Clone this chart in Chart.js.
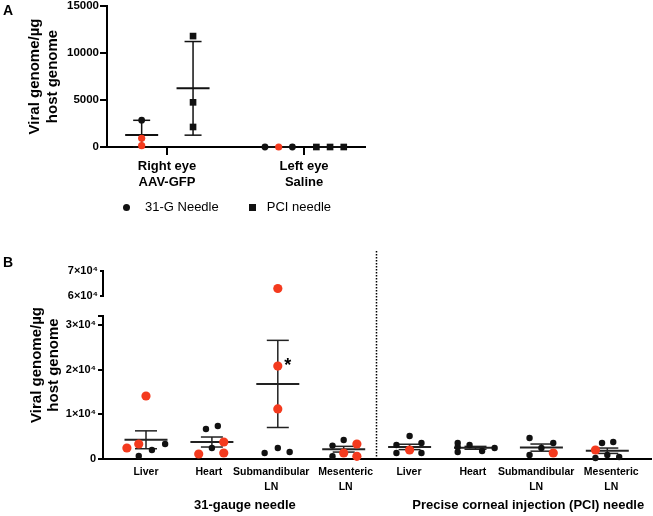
<!DOCTYPE html>
<html><head><meta charset="utf-8">
<script src="https://cdn.jsdelivr.net/npm/chart.js@4.4.1/dist/chart.umd.min.js"></script>
<style>
html,body{margin:0;padding:0;background:#fff;}
#wrap{position:relative;width:653px;height:516px;overflow:hidden;font-family:"Liberation Sans",Arial,Helvetica,sans-serif;}
canvas{position:absolute;left:0;}
#cA{top:0;}
#cB{top:240px;}
.plabel{position:absolute;font-weight:bold;font-size:14px;line-height:14px;color:#000;}
#legendA{position:absolute;left:123px;top:199px;height:16px;display:flex;align-items:center;font-size:13px;line-height:16px;color:#000;white-space:nowrap;}
#legendA .item{display:flex;align-items:center;}
#legendA .mk{display:inline-block;background:#111;}
</style></head><body>
<div id="wrap">
<canvas id="cA" width="452" height="200"></canvas>
<canvas id="cB" width="653" height="276"></canvas>
<div class="plabel" style="left:3px;top:3px;">A</div>
<div class="plabel" style="left:3px;top:255px;">B</div>
<div id="legendA"></div>
</div>
<script>
// ---------------- Panel A data ----------------
const groupsA = [['Right eye', 'AAV-GFP'], ['Left eye', 'Saline']];
const seriesA = ['31-G Needle', 'PCI needle'];
const needle31A = [[2850, 920, 140], [0, 0, 0]];
const needle31RedA = [[false, true, true], [false, true, false]];
const pciA = [[11800, 4750, 2130], [0, 0, 0]];
const needle31MeanA = [1280, 0];
const needle31SdA = [1560, 0];
const pciMeanA = [6240, 0];
const pciSdA = [4980, 0];
const ticksA = [0, 5000, 10000, 15000];
const jitterA = [[0, 0, 0], [-0.1, 0, 0.1]];

// ---------------- Panel B data ----------------
const tissuesB = [['Liver'], ['Heart'], ['Submandibular', 'LN'], ['Mesenteric', 'LN'],
                  ['Liver'], ['Heart'], ['Submandibular', 'LN'], ['Mesenteric', 'LN']];
const groupTitlesB = ['31-gauge needle', 'Precise corneal injection (PCI) needle'];
const valuesB = [
  [2460, 3360, 14100, 670, 2000, 3360],
  [1120, 6710, 7380, 2460, 3800, 1340],
  [63000, 20800, 11200, 1340, 2460, 1570],
  [3000, 4250, 3360, 1340, 600, 600],
  [5150, 3130, 3580, 2010, 1340, 1340],
  [3580, 2680, 1570, 3130, 1790, 2460],
  [4700, 3580, 2460, 1340, 900],
  [2010, 3580, 3800, 220, 900, 450]
];
const redB = [
  [1, 1, 1, 0, 0, 0],
  [1, 0, 0, 0, 1, 1],
  [1, 1, 1, 0, 0, 0],
  [0, 0, 1, 1, 1, 0],
  [0, 0, 0, 1, 0, 0],
  [0, 0, 0, 0, 0, 0],
  [0, 0, 0, 1, 0],
  [1, 0, 0, 0, 0, 0]
];
const jitterB = [
  [-0.29, -0.11, 0, -0.11, 0.09, 0.29],
  [-0.2, -0.09, 0.09, 0, 0.18, 0.18],
  [0, 0, 0, -0.2, 0, 0.18],
  [-0.17, 0, 0.2, 0, 0.2, -0.17],
  [0, -0.2, 0.18, 0, -0.2, 0.18],
  [-0.27, -0.27, -0.27, -0.09, 0.1, 0.29],
  [-0.18, 0.18, 0, 0.18, -0.18],
  [-0.18, -0.08, 0.09, -0.18, 0, 0.18]
];
const meanB = [4300, 3800, 16800, 2190, 2700, 2500, 2550, 1850];
const semB = [2000, 1120, 9750, 640, 600, 320, 800, 600];
const lowerTicksB = [0, 10000, 20000, 30000];
const upperTicksB = [60000, 70000];
const starsB = [{ cat: 2, value: 21900, label: '*' }];

// ---------------- styling / layout ----------------
const FONT = '"Liberation Sans", Arial, Helvetica, sans-serif';
const RED = '#f43a1e';
const BLACK = '#111';
const BAR = '#222';
const labelPosB = [0, 0.955, 1.9, 3.03, 3.99, 4.96, 5.92, 7.06];
const groupTitlePosB = [1.5, 5.8];
function zeroPad(s) { s.paddingTop = 0; s.paddingBottom = 0; s.paddingLeft = 0; s.paddingRight = 0; }

// HTML legend built from the chart's own legend items
const htmlLegend = {
  id: 'htmlLegend',
  afterUpdate(chart) {
    const box = document.getElementById('legendA');
    box.innerHTML = '';
    const items = chart.options.plugins.legend.labels.generateLabels(chart).filter(it => it.datasetIndex < 2);
    items.forEach((it, i) => {
      const el = document.createElement('span');
      el.className = 'item';
      el.style.marginLeft = i === 0 ? '0px' : '30px';
      const mk = document.createElement('span');
      mk.className = 'mk';
      if (it.pointStyle === 'rect') { mk.style.width = '7px'; mk.style.height = '7px'; }
      else { mk.style.width = '7px'; mk.style.height = '7px'; mk.style.borderRadius = '50%'; }
      mk.style.background = it.fillStyle;
      mk.style.marginRight = it.pointStyle === 'rect' ? '11px' : '15px';
      const tx = document.createElement('span');
      tx.textContent = it.text;
      el.appendChild(mk); el.appendChild(tx);
      box.appendChild(el);
    });
  }
};

// ================= Panel A =================
const offA = [-0.185, 0.19];
function ptsA(vals, isRed, off, wantRed) {
  const out = [];
  vals.forEach((grp, g) => grp.forEach((v, k) => {
    const red = isRed ? isRed[g][k] : false;
    if (red === wantRed) out.push({ x: g + off + jitterA[g][k], y: v });
  }));
  return out;
}
const meansA = [], capsA = [], linesA = [];
[[needle31MeanA, needle31SdA, offA[0]], [pciMeanA, pciSdA, offA[1]]].forEach(([m, sd, off]) => {
  m.forEach((mv, g) => {
    const x = g + off, lo = Math.max(0, mv - sd[g]), hi = mv + sd[g];
    meansA.push({ x, y: mv });
    capsA.push({ x, y: lo }, { x, y: hi });
    linesA.push({ x, y: lo }, { x, y: hi }, { x, y: null });
  });
});

new Chart(document.getElementById('cA'), {
  type: 'scatter',
  data: {
    datasets: [
      { label: seriesA[0], data: ptsA(needle31A, needle31RedA, offA[0], false), pointStyle: 'circle', pointRadius: 3.4,
        backgroundColor: BLACK, borderColor: BLACK, pointBorderWidth: 0, clip: false },
      { label: seriesA[1], data: ptsA(pciA, null, offA[1], false), pointStyle: 'rect', pointRadius: 4.7,
        backgroundColor: BLACK, borderColor: BLACK, pointBorderWidth: 0, clip: false },
      { label: '', data: ptsA(needle31A, needle31RedA, offA[0], true), pointStyle: 'circle', pointRadius: 3.6,
        backgroundColor: RED, borderColor: RED, pointBorderWidth: 0, clip: false },
      { label: '', data: meansA, pointStyle: 'line', pointRadius: 16.5, pointBorderWidth: 2,
        pointBorderColor: BLACK, backgroundColor: BLACK, clip: false },
      { label: '', data: capsA, pointStyle: 'line', pointRadius: 8.5, pointBorderWidth: 1.5,
        pointBorderColor: BLACK, backgroundColor: BLACK, clip: false },
      { label: '', data: linesA, showLine: true, borderColor: BLACK, borderWidth: 1.5, pointRadius: 0, spanGaps: false, clip: false }
    ]
  },
  options: {
    responsive: false, animation: false, devicePixelRatio: 1, events: [],
    layout: { autoPadding: false, padding: { top: 6, left: 0, right: 0, bottom: 0 } },
    plugins: {
      tooltip: { enabled: false },
      legend: { display: false, labels: { usePointStyle: true } }
    },
    scales: {
      x: {
        type: 'linear', position: 'bottom', min: -0.438, max: 1.445,
        afterBuildTicks: (s) => { s.ticks = groupsA.map((g, i) => ({ value: i })); },
        ticks: { callback: (v, i) => groupsA[i], autoSkip: false, maxRotation: 0, minRotation: 0,
          padding: 2.5, color: '#000', font: { family: FONT, size: 13, weight: 'bold', lineHeight: 1.3 } },
        grid: { display: true, drawOnChartArea: false, drawTicks: true, tickLength: 8, color: '#000', lineWidth: 2 },
        border: { display: true, color: '#000', width: 2 },
        afterFit: (s) => { s.height = 53; zeroPad(s); }
      },
      y: {
        type: 'linear', position: 'left', min: 0, max: 15000,
        afterBuildTicks: (s) => { s.ticks = ticksA.map(v => ({ value: v })); },
        ticks: { callback: (v) => String(v), padding: 1, color: '#000', autoSkip: false,
          font: { family: FONT, size: 11.5, weight: 'bold', lineHeight: 1.2 } },
        grid: { display: true, drawOnChartArea: false, drawTicks: true, tickLength: 7, color: '#000', lineWidth: 2 },
        border: { display: true, color: '#000', width: 2 },
        title: { display: true, text: ['Viral genome/µg', 'host genome'], color: '#000',
          font: { family: FONT, size: 15, weight: 'bold', lineHeight: 1.25 }, padding: { top: 25, bottom: 0 } },
        afterFit: (s) => { s.width = 107; zeroPad(s); }
      },
      yR: {
        type: 'linear', position: 'right', min: 0, max: 1, display: true,
        ticks: { display: false }, grid: { display: false }, border: { display: false },
        afterFit: (s) => { s.width = 87; zeroPad(s); }
      }
    }
  },
  plugins: [htmlLegend]
});

// ================= Panel B =================
const lowerMaxB = 32000;
function ptsB(wantRed, upper) {
  const out = [];
  valuesB.forEach((grp, c) => grp.forEach((v, k) => {
    if ((!!redB[c][k]) === wantRed && (v > lowerMaxB) === upper) out.push({ x: c + jitterB[c][k], y: v });
  }));
  return out;
}
const meansB = [], capsB = [], linesB = [];
meanB.forEach((m, c) => {
  const lo = m - semB[c], hi = m + semB[c];
  meansB.push({ x: c, y: m });
  capsB.push({ x: c, y: lo }, { x: c, y: hi });
  linesB.push({ x: c, y: lo }, { x: c, y: hi }, { x: c, y: null });
});
const fmtB = (v) => v === 0 ? '0' : ((lowerTicksB.includes(v) || upperTicksB.includes(v)) ? (v / 10000) + '×10⁴' : '');

const extrasB = {
  id: 'extrasB',
  afterDraw(chart) {
    const { ctx, chartArea, scales } = chart;
    const x = Math.round(scales.x.getPixelForValue(3.49)) + 0.5;
    ctx.save();
    ctx.strokeStyle = '#000'; ctx.lineWidth = 1.5; ctx.setLineDash([1.5, 1.5]);
    ctx.beginPath(); ctx.moveTo(x, chartArea.top - 20); ctx.lineTo(x, chartArea.bottom); ctx.stroke();
    ctx.setLineDash([]);
    ctx.font = 'bold 18px ' + FONT; ctx.fillStyle = '#000'; ctx.textAlign = 'center'; ctx.textBaseline = 'alphabetic';
    starsB.forEach(s => {
      ctx.fillText(s.label, scales.x.getPixelForValue(s.cat + 0.15), scales.yBot.getPixelForValue(s.value) + 10);
    });
    ctx.restore();
  }
};

const yAxisCommonB = {
  type: 'linear', position: 'left', stack: 'b',
  border: { display: true, color: '#000', width: 2 },
  afterFit: (s) => { s.width = 41; zeroPad(s); }
};

new Chart(document.getElementById('cB'), {
  type: 'scatter',
  data: {
    datasets: [
      { label: 'black', data: ptsB(false, false), yAxisID: 'yBot', pointStyle: 'circle', pointRadius: 3.2,
        backgroundColor: BLACK, borderColor: BLACK, pointBorderWidth: 0, clip: false },
      { label: 'red', data: ptsB(true, false), yAxisID: 'yBot', pointStyle: 'circle', pointRadius: 4.6,
        backgroundColor: RED, borderColor: RED, pointBorderWidth: 0, clip: false },
      { label: 'red-high', data: ptsB(true, true), yAxisID: 'yTop', pointStyle: 'circle', pointRadius: 4.6,
        backgroundColor: RED, borderColor: RED, pointBorderWidth: 0, clip: false },
      { label: 'mean', data: meansB, yAxisID: 'yBot', pointStyle: 'line', pointRadius: 21.5, pointBorderWidth: 2,
        pointBorderColor: BAR, backgroundColor: BAR, clip: false },
      { label: 'caps', data: capsB, yAxisID: 'yBot', pointStyle: 'line', pointRadius: 11, pointBorderWidth: 1.5,
        pointBorderColor: BAR, backgroundColor: BAR, clip: false },
      { label: 'sem', data: linesB, yAxisID: 'yBot', showLine: true, borderColor: BAR, borderWidth: 1.5,
        pointRadius: 0, spanGaps: false, clip: false }
    ]
  },
  options: {
    responsive: false, animation: false, devicePixelRatio: 1, events: [],
    layout: { autoPadding: false, padding: { top: 31, left: 0, right: 2, bottom: 2 } },
    plugins: { legend: { display: false }, tooltip: { enabled: false } },
    scales: {
      x: {
        type: 'linear', position: 'bottom', weight: 0, min: -0.6525, max: 7.663,
        afterBuildTicks: (s) => { s.ticks = labelPosB.map(v => ({ value: v })); },
        ticks: { callback: (v, i) => tissuesB[i], autoSkip: false, maxRotation: 0, minRotation: 0, padding: 5.5,
          color: '#000', font: { family: FONT, size: 10.5, weight: 'bold', lineHeight: 1.43 } },
        grid: { display: false, drawTicks: false },
        border: { display: true, color: '#000', width: 2 },
        afterFit: (s) => { s.height = 37; zeroPad(s); }
      },
      x2: {
        type: 'linear', position: 'bottom', weight: 1, min: -0.6525, max: 7.663,
        afterBuildTicks: (s) => { s.ticks = groupTitlePosB.map(v => ({ value: v })); },
        ticks: { callback: (v, i) => groupTitlesB[i], autoSkip: false, maxRotation: 0, minRotation: 0, padding: 2,
          color: '#000', font: { family: FONT, size: 13, weight: 'bold', lineHeight: 1.2 } },
        grid: { display: false, drawTicks: false },
        border: { display: false },
        afterFit: (s) => { s.height = 18; zeroPad(s); }
      },
      yTitle: {
        type: 'linear', position: 'left', weight: 10, min: 0, max: 1, display: true,
        ticks: { display: false }, grid: { display: false }, border: { display: false },
        title: { display: true, text: ['Viral genome/µg', 'host genome'], color: '#000',
          font: { family: FONT, size: 15, weight: 'bold', lineHeight: 1.15 }, padding: { top: 28.4, bottom: 0 } },
        afterFit: (s) => { s.width = 62; zeroPad(s); }
      },
      yTop: Object.assign({}, yAxisCommonB, {
        weight: 3, stackWeight: 25, min: 60000, max: 70000,
        afterBuildTicks: (s) => { s.ticks = upperTicksB.map(v => ({ value: v })); },
        ticks: { callback: fmtB, padding: 2, autoSkip: false, color: '#000', font: { family: FONT, size: 11, weight: 'bold' } },
        grid: { display: true, drawOnChartArea: false, drawTicks: true, tickLength: 3, color: '#000', lineWidth: 2 }
      }),
      yGap: {
        type: 'linear', position: 'left', stack: 'b', weight: 2, stackWeight: 20, min: 0, max: 1, display: true,
        ticks: { display: false }, grid: { display: false }, border: { display: false },
        afterFit: (s) => { s.width = 41; zeroPad(s); }
      },
      yBot: Object.assign({}, yAxisCommonB, {
        weight: 1, stackWeight: 143, min: 0, max: lowerMaxB,
        afterBuildTicks: (s) => { s.ticks = lowerTicksB.concat([lowerMaxB]).map(v => ({ value: v })); },
        ticks: { callback: fmtB, padding: 2, autoSkip: false, color: '#000', font: { family: FONT, size: 11, weight: 'bold' } },
        grid: { display: true, drawOnChartArea: false, drawTicks: true, tickLength: 5, color: '#000', lineWidth: 2 }
      })
    }
  },
  plugins: [extrasB]
});
</script>
</body></html>
